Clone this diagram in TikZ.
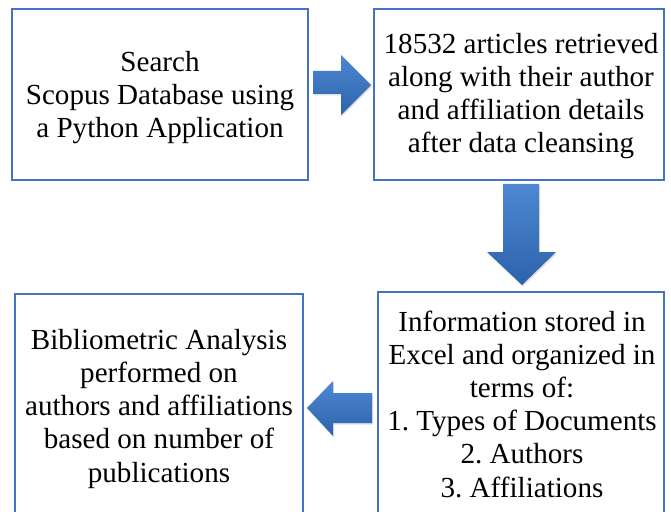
\documentclass[tikz,border=0pt]{standalone}
\usepackage{fontspec}
\setmainfont{Liberation Serif}
\usetikzlibrary{shadows}
\definecolor{boxblue}{RGB}{68,114,196}
\definecolor{arrowlight}{RGB}{78,136,210}
\definecolor{arrowdark}{RGB}{45,98,172}
\frenchspacing
\begin{document}
\begin{tikzpicture}[x=1bp,y=-1bp,
  box/.style={draw=boxblue, line width=2bp, rectangle, inner sep=0pt, fill=white},
  txt/.style={align=center, font=\fontsize{29.2}{33.3}\selectfont, inner sep=0pt, anchor=base},
  blockarrow/.style={top color=arrowlight, bottom color=arrowdark, draw=none,
    drop shadow={opacity=0.25, shadow xshift=1bp, shadow yshift=-1.5bp}}]
\useasboundingbox (0,0) rectangle (671,512);
\clip (0,0) rectangle (671,512);
\fill[white] (0,0) rectangle (671,512);
% boxes
\node[box, minimum width=296bp, minimum height=171bp] (b1) at (160,94.5) {};
\node[box, minimum width=290bp, minimum height=171bp] (b2) at (519,94.5) {};
\node[box, minimum width=288bp, minimum height=246bp] (b3) at (159,417) {};
\node[box, minimum width=286bp, minimum height=248bp] (b4) at (521,416) {};
% texts (anchor base = baseline of the last line)
\node[txt] (t1) at (160,138) {Search\\Scopus Database using\\a Python Application};
\node[txt] (t2) at (521,153) {18532 articles retrieved\\along with their author\\and affiliation details\\after data cleansing};
\node[txt] (t3) at (159,482) {Bibliometric Analysis\\performed on\\authors and affiliations\\based on number of\\publications};
\node[txt] (t4) at (522,497) {Information stored in\\Excel and organized in\\terms of:\\1. Types of Documents\\2. Authors\\3. Affiliations};
% block arrows
\path[blockarrow] (313,71) -- (341,71) -- (341,55) -- (371,85) -- (341,115) -- (341,94) -- (313,94) -- cycle;
\path[blockarrow] (503,184) -- (539,184) -- (539,252) -- (556,252) -- (522,285) -- (487,252) -- (503,252) -- cycle;
\path[blockarrow] (372,393) -- (333,393) -- (333,381) -- (307,408) -- (333,436) -- (333,423) -- (372,423) -- cycle;
\end{tikzpicture}
\end{document}
